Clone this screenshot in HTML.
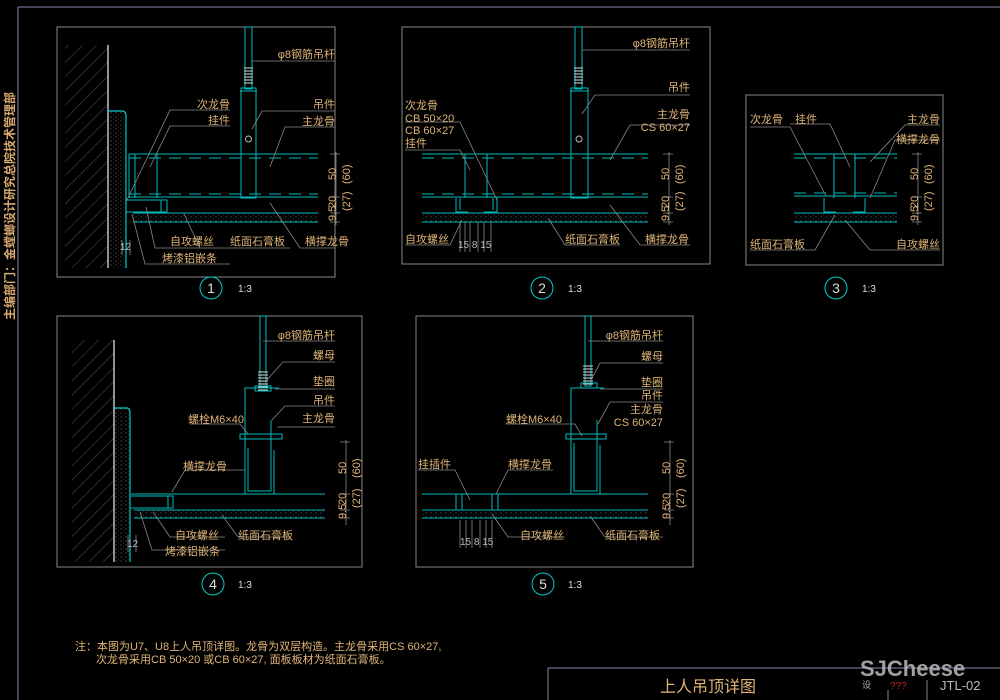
<!DOCTYPE html>
<html><head><meta charset="utf-8"><style>
html,body{margin:0;padding:0;background:#000;}
svg{display:block}
text{font-family:"Liberation Sans","Noto Sans CJK SC",sans-serif;fill:#e0b478;font-size:11px}
.t{fill:#d8aa70}
.d{fill:#bbb;font-size:10px}
.w{fill:#ddd;font-size:10px}
</style></head><body>
<svg width="1000" height="700" viewBox="0 0 1000 700" xmlns="http://www.w3.org/2000/svg">
<defs>
<pattern id="hat" width="10" height="10" patternUnits="userSpaceOnUse" patternTransform="rotate(45)">
<line x1="0" y1="0" x2="0" y2="10" stroke="#777" stroke-width="0.7"/>
</pattern>
<pattern id="dot" width="5" height="4" patternUnits="userSpaceOnUse">
<circle cx="1" cy="1" r="0.5" fill="#999"/><circle cx="3.5" cy="3" r="0.4" fill="#777"/>
</pattern>
</defs>
<!-- outer frame -->
<g fill="none" stroke="#8a8ab0" stroke-width="1">
<path d="M18 7 H1000 M18 7 V700"/>
<path d="M548 668 H1000 M548 668 V700"/>
</g>
<text x="0" y="0" transform="translate(14,320) rotate(-90)" style="font-size:12px;font-weight:bold" class="t">主编部门：金螳螂设计研究总院技术管理部</text>
<!-- panel frames -->
<g fill="none" stroke="#888" stroke-width="1">
<rect x="57" y="27" width="278" height="250"/>
<rect x="402" y="27" width="308" height="237"/>
<rect x="746" y="95" width="197" height="170"/>
<rect x="57" y="316" width="305" height="251"/>
<rect x="416" y="316" width="277" height="251"/>
</g>

<!-- ========== PANEL 1 ========== -->
<rect x="65" y="45" width="43" height="223" fill="url(#hat)"/>
<line x1="108" y1="45" x2="108" y2="268" stroke="#eee" stroke-width="1.2"/>
<rect x="108" y="111" width="18" height="157" fill="url(#dot)"/>
<path d="M108 111 H122 Q126 111 126 116 V268" fill="none" stroke="#0cc" stroke-width="1.2"/>
<g stroke="#0bb" fill="none" stroke-width="1">
<rect x="245" y="27" width="7" height="62"/>
<path d="M244 68 h9 M244 71 h9 M244 74 h9 M244 77 h9 M244 80 h9 M244 83 h9" stroke="#ddd"/>
<rect x="241" y="88" width="15" height="110"/>
<line x1="240" y1="91" x2="257" y2="91"/>
<line x1="129" y1="154" x2="318" y2="154"/>
<line x1="129" y1="158" x2="318" y2="158" stroke-dasharray="12,8"/>
<line x1="129" y1="194" x2="318" y2="194" stroke-dasharray="12,8"/>
<line x1="129" y1="197" x2="318" y2="197"/>
<path d="M129 154 V198 M135 154 V198 M157 154 V198"/>
<path d="M126 200 H167 V212 M126 212 H167 M161 200 V212"/>
<line x1="133" y1="213" x2="318" y2="213"/>
<line x1="133" y1="222" x2="318" y2="222"/>
</g>
<rect x="133" y="214" width="185" height="8" fill="url(#dot)"/>
<circle cx="248.5" cy="139" r="3" fill="none" stroke="#bbb"/>
<g stroke="#888" fill="none" stroke-width="0.8">
<path d="M252 61 H335 M252 129 L262 111 H335 M270 167 L285 127 H335 M127 200 L170 110 H230 M150 167 L170 126 H230 M146 207 L155 248 H230 M184 214 L200 248 H290 M270 203 L300 248 H335 M132 214 L145 264 H230"/>
<path d="M336 152 V225 M330 154 H340 M330 197 H340 M330 213 H340 M330 222 H340"/>
<path d="M122 240 V255 M130 240 V255"/>
</g>
<text x="335" y="58" text-anchor="end">φ8钢筋吊杆</text>
<text x="230" y="108" text-anchor="end">次龙骨</text>
<text x="230" y="124" text-anchor="end">挂件</text>
<text x="335" y="108" text-anchor="end">吊件</text>
<text x="335" y="125" text-anchor="end">主龙骨</text>
<text x="170" y="245">自攻螺丝</text>
<text x="230" y="245">纸面石膏板</text>
<text x="305" y="245">横撑龙骨</text>
<text x="162" y="262">烤漆铝嵌条</text>
<text x="120" y="250" class="d">12</text>
<g class="d"><text transform="translate(336,180) rotate(-90)" x="0" y="0">50</text>
<text transform="translate(336,208) rotate(-90)">20</text>
<text transform="translate(336,221) rotate(-90)">9.5</text>
<text transform="translate(350,184) rotate(-90)">(60)</text>
<text transform="translate(350,211) rotate(-90)">(27)</text></g>

<!-- ========== PANEL 2 ========== -->
<g stroke="#0bb" fill="none" stroke-width="1">
<rect x="575" y="27" width="7" height="62"/>
<path d="M574 68 h9 M574 71 h9 M574 74 h9 M574 77 h9 M574 80 h9 M574 83 h9" stroke="#ddd"/>
<rect x="571" y="88" width="17" height="110"/>
<line x1="570" y1="91" x2="589" y2="91"/>
<line x1="422" y1="154" x2="648" y2="154"/>
<line x1="422" y1="158" x2="648" y2="158" stroke-dasharray="12,8"/>
<line x1="422" y1="194" x2="648" y2="194" stroke-dasharray="12,8"/>
<line x1="422" y1="197" x2="648" y2="197"/>
<path d="M465 154 V198 M487 154 V198"/>
<path d="M456 198 V212 H468 M497 198 V212 H484 M460 198 V210 M493 198 V210"/>
<line x1="422" y1="213" x2="648" y2="213"/>
<line x1="422" y1="222" x2="648" y2="222"/>
</g>
<rect x="422" y="214" width="226" height="8" fill="url(#dot)"/>
<circle cx="579" cy="139" r="3" fill="none" stroke="#bbb"/>
<g stroke="#888" fill="none" stroke-width="0.8">
<path d="M582 50 H690 M582 114 L595 95 H690 M610 160 L630 125 H690 M497 200 L460 122 H405 M470 170 L460 150 H405 M462 220 L450 245 H405 M548 218 L565 245 H620 M610 205 L640 245 H690"/>
<path d="M669 152 V225 M663 154 H673 M663 197 H673 M663 213 H673 M663 222 H673"/>
<path d="M460 222 V252 M465 222 V252 M470 222 V252 M478 222 V252 M484 222 V252 M491 222 V252"/>
</g>
<text x="690" y="47" text-anchor="end">φ8钢筋吊杆</text>
<text x="690" y="91" text-anchor="end">吊件</text>
<text x="690" y="118" text-anchor="end">主龙骨</text>
<text x="690" y="131" text-anchor="end">CS 60×27</text>
<text x="405" y="109">次龙骨</text>
<text x="405" y="122">CB 50×20</text>
<text x="405" y="134">CB 60×27</text>
<text x="405" y="147">挂件</text>
<text x="405" y="243">自攻螺丝</text>
<text x="565" y="243">纸面石膏板</text>
<text x="645" y="243">横撑龙骨</text>
<text x="458" y="248" class="d">15 8 15</text>
<g class="d"><text transform="translate(669,180) rotate(-90)">50</text>
<text transform="translate(669,208) rotate(-90)">20</text>
<text transform="translate(669,221) rotate(-90)">9.5</text>
<text transform="translate(683,184) rotate(-90)">(60)</text>
<text transform="translate(683,211) rotate(-90)">(27)</text></g>

<!-- ========== PANEL 3 ========== -->
<g stroke="#0bb" fill="none" stroke-width="1">
<line x1="794" y1="154" x2="897" y2="154"/>
<line x1="794" y1="158" x2="897" y2="158" stroke-dasharray="12,8"/>
<line x1="794" y1="193" x2="897" y2="193" stroke-dasharray="12,8"/>
<line x1="794" y1="196" x2="897" y2="196"/>
<path d="M834 154 V198 M855 154 V198"/>
<path d="M824 198 V212 H836 M865 198 V212 H853"/>
<line x1="794" y1="213" x2="897" y2="213"/>
<line x1="794" y1="222" x2="897" y2="222"/>
</g>
<rect x="794" y="214" width="103" height="8" fill="url(#dot)"/>
<g stroke="#888" fill="none" stroke-width="0.8">
<path d="M826 196 L790 127 H750 M850 167 L830 124 H790 M870 162 L905 125 H940 M870 198 L895 140 H940 M835 215 L815 250 H750 M845 220 L870 250 H940"/>
<path d="M918 152 V225 M912 154 H922 M912 197 H922 M912 213 H922 M912 222 H922"/>
</g>
<text x="750" y="123">次龙骨</text>
<text x="795" y="123">挂件</text>
<text x="940" y="123" text-anchor="end">主龙骨</text>
<text x="940" y="143" text-anchor="end">横撑龙骨</text>
<text x="750" y="248">纸面石膏板</text>
<text x="940" y="248" text-anchor="end">自攻螺丝</text>
<g class="d"><text transform="translate(918,180) rotate(-90)">50</text>
<text transform="translate(918,208) rotate(-90)">20</text>
<text transform="translate(918,221) rotate(-90)">9.5</text>
<text transform="translate(932,184) rotate(-90)">(60)</text>
<text transform="translate(932,211) rotate(-90)">(27)</text></g>

<!-- ========== PANEL 4 ========== -->
<rect x="72" y="340" width="42" height="222" fill="url(#hat)"/>
<line x1="114" y1="340" x2="114" y2="562" stroke="#eee" stroke-width="1.2"/>
<rect x="114" y="408" width="16" height="154" fill="url(#dot)"/>
<path d="M114 408 H127 Q130 408 130 413 V562" fill="none" stroke="#0cc" stroke-width="1.2"/>
<g stroke="#0bb" fill="none" stroke-width="1">
<rect x="260" y="316" width="6" height="70"/>
<path d="M258 372 h10 M258 375 h10 M258 378 h10 M258 381 h10 M258 384 h10 M258 387 h10 M258 390 h10" stroke="#ddd"/>
<path d="M279 388 H245 V494 H274 V450 M248 448 V491 H271 V448"/>
<rect x="240" y="434" width="42" height="5"/>
<path d="M271 420 V470"/>
<rect x="255" y="386" width="16" height="5"/>
<line x1="131" y1="494" x2="325" y2="494"/>
<path d="M131 496 H173 V508 M131 508 H173 M168 496 V508"/>
<line x1="134" y1="510" x2="325" y2="510"/>
<line x1="134" y1="518" x2="325" y2="518"/>
</g>
<rect x="134" y="510" width="191" height="8" fill="url(#dot)"/>
<g stroke="#888" fill="none" stroke-width="0.8">
<path d="M263 341 H335 M265 382 L283 362 H335 M275 389 H335 M272 420 L285 406 H335 M277 427 H335 M248 434 L240 424 H190 M172 492 L185 470 H245 M153 512 L170 537 H225 M222 515 L238 537 H290 M140 512 L152 550 H225"/>
<path d="M346 440 V525 M340 442 H350 M340 494 H350 M340 510 H350 M340 518 H350"/>
<path d="M128 535 V552 M136 535 V552"/>
</g>
<text x="335" y="339" text-anchor="end">φ8钢筋吊杆</text>
<text x="335" y="359" text-anchor="end">螺母</text>
<text x="335" y="385" text-anchor="end">垫圈</text>
<text x="335" y="404" text-anchor="end">吊件</text>
<text x="335" y="422" text-anchor="end">主龙骨</text>
<text x="188" y="423">螺栓M6×40</text>
<text x="183" y="470">横撑龙骨</text>
<text x="175" y="539">自攻螺丝</text>
<text x="238" y="539">纸面石膏板</text>
<text x="165" y="555">烤漆铝嵌条</text>
<text x="127" y="547" class="d">12</text>
<g class="d"><text transform="translate(346,474) rotate(-90)">50</text>
<text transform="translate(346,505) rotate(-90)">20</text>
<text transform="translate(346,519) rotate(-90)">9.5</text>
<text transform="translate(360,478) rotate(-90)">(60)</text>
<text transform="translate(360,508) rotate(-90)">(27)</text></g>

<!-- ========== PANEL 5 ========== -->
<g stroke="#0bb" fill="none" stroke-width="1">
<rect x="585" y="316" width="6" height="70"/>
<path d="M583 366 h10 M583 369 h10 M583 372 h10 M583 375 h10 M583 378 h10 M583 381 h10 M583 384 h10" stroke="#ddd"/>
<path d="M604 388 H571 V494 H600 V445 M574 443 V491 H597 V443"/>
<rect x="566" y="434" width="40" height="5"/>
<path d="M597 420 V470"/>
<rect x="581" y="383" width="16" height="5"/>
<line x1="422" y1="494" x2="648" y2="494"/>
<path d="M456 494 V510 M462 494 V510 M492 494 V510 M498 494 V510"/>
<line x1="422" y1="510" x2="648" y2="510"/>
<line x1="422" y1="518" x2="648" y2="518"/>
</g>
<rect x="422" y="511" width="226" height="7" fill="url(#dot)"/>
<g stroke="#888" fill="none" stroke-width="0.8">
<path d="M588 341 H663 M590 382 L600 363 H663 M600 389 H663 M598 424 L610 402 H663 M582 436 L575 424 H505 M470 500 L455 470 H418 M496 494 L508 470 H553 M492 514 L508 537 H565 M590 516 L605 537 H663"/>
<path d="M670 440 V525 M664 442 H674 M664 494 H674 M664 510 H674 M664 518 H674"/>
<path d="M460 520 V548 M466 520 V548 M472 520 V548 M480 520 V548 M486 520 V548 M492 520 V548"/>
</g>
<text x="663" y="339" text-anchor="end">φ8钢筋吊杆</text>
<text x="663" y="360" text-anchor="end">螺母</text>
<text x="663" y="386" text-anchor="end">垫圈</text>
<text x="663" y="399" text-anchor="end">吊件</text>
<text x="663" y="413" text-anchor="end">主龙骨</text>
<text x="663" y="426" text-anchor="end">CS 60×27</text>
<text x="506" y="423">螺栓M6×40</text>
<text x="418" y="468">挂插件</text>
<text x="508" y="468">横撑龙骨</text>
<text x="520" y="539">自攻螺丝</text>
<text x="605" y="539">纸面石膏板</text>
<text x="460" y="545" class="d">15 8 15</text>
<g class="d"><text transform="translate(670,474) rotate(-90)">50</text>
<text transform="translate(670,505) rotate(-90)">20</text>
<text transform="translate(670,519) rotate(-90)">9.5</text>
<text transform="translate(684,478) rotate(-90)">(60)</text>
<text transform="translate(684,508) rotate(-90)">(27)</text></g>

<!-- scale markers -->
<g fill="none" stroke="#0cc" stroke-width="1">
<circle cx="211" cy="288" r="11"/><circle cx="542" cy="288" r="11"/><circle cx="836" cy="288" r="11"/>
<circle cx="213" cy="584" r="11"/><circle cx="543" cy="584" r="11"/>
</g>
<g style="font-size:14px" class="w">
<text x="211" y="293" text-anchor="middle" style="font-size:14px;fill:#ddd">1</text>
<text x="542" y="293" text-anchor="middle" style="font-size:14px;fill:#ddd">2</text>
<text x="836" y="293" text-anchor="middle" style="font-size:14px;fill:#ddd">3</text>
<text x="213" y="589" text-anchor="middle" style="font-size:14px;fill:#ddd">4</text>
<text x="543" y="589" text-anchor="middle" style="font-size:14px;fill:#ddd">5</text>
</g>
<text x="238" y="292" class="w">1:3</text>
<text x="568" y="292" class="w">1:3</text>
<text x="862" y="292" class="w">1:3</text>
<text x="238" y="588" class="w">1:3</text>
<text x="568" y="588" class="w">1:3</text>

<!-- notes -->
<text x="75" y="650" style="font-size:11px">注：本图为U7、U8上人吊顶详图。龙骨为双层构造。主龙骨采用CS 60×27,</text>
<text x="96" y="663" style="font-size:11px">次龙骨采用CB 50×20 或CB 60×27, 面板板材为纸面石膏板。</text>

<!-- title block -->
<text x="660" y="692" style="font-size:16px">上人吊顶详图</text>
<text x="862" y="688" style="font-size:9px;fill:#aaa">设</text>
<text x="890" y="689" style="font-size:10px;fill:#c22">???</text>
<line x1="888" y1="690" x2="888" y2="700" stroke="#888"/>
<line x1="927" y1="680" x2="927" y2="700" stroke="#888"/>
<text x="940" y="690" style="font-size:13px;fill:#bbb">JTL-02</text>
<text x="860" y="676" style="font-size:22px;fill:#bbb;opacity:0.85;font-weight:bold">SJCheese</text>
</svg>
</body></html>
